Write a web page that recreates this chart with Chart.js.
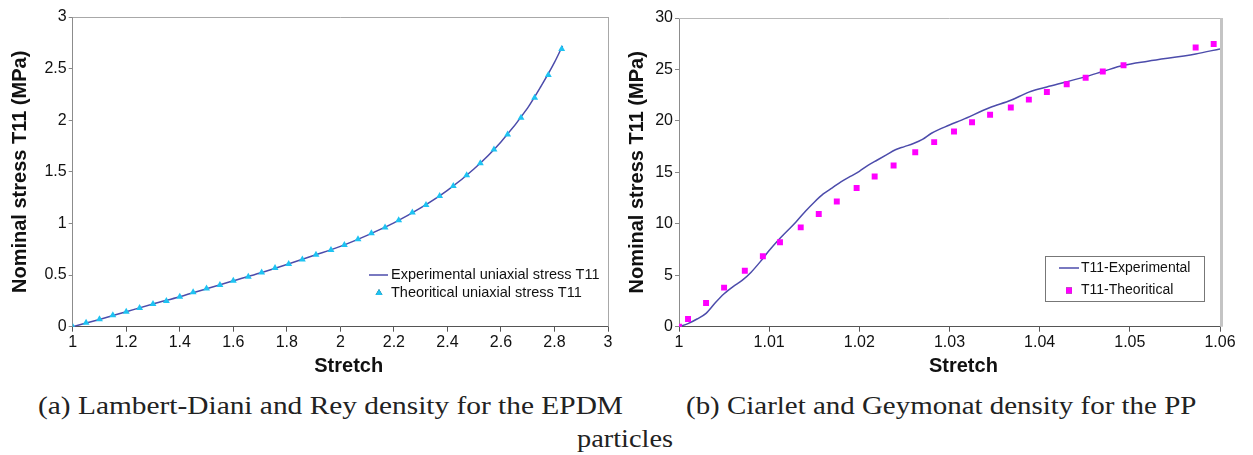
<!DOCTYPE html>
<html>
<head>
<meta charset="utf-8">
<script src="https://cdn.jsdelivr.net/npm/chart.js@4.4.1/dist/chart.umd.min.js"></script>
<style>
  html, body { margin: 0; padding: 0; background: #fff; }
  body { width: 1253px; height: 455px; position: relative; overflow: hidden; }
  canvas { position: absolute; top: 0; }
  #cA { left: 0; }
  #cB { left: 616px; }
  .cap { position: absolute; font-family: "Liberation Serif", serif; font-size: 26px; color: #222;
         white-space: nowrap; transform-origin: 0 0; }
</style>
</head>
<body>
<canvas id="cA" width="616" height="390"></canvas>
<canvas id="cB" width="637" height="390"></canvas>
<div class="cap" id="capA" style="left:38px; top:391px; transform:scaleX(1.13);">(a) Lambert-Diani and Rey density for the EPDM</div>
<div class="cap" id="capA2" style="left:577px; top:424px; transform:scaleX(1.09);">particles</div>
<div class="cap" id="capB" style="left:686px; top:391px; transform:scaleX(1.113);">(b) Ciarlet and Geymonat density for the PP</div>
<script>
// (a) EPDM, Lambert-Diani and Rey
const expA_x = [1, 1.1, 1.2, 1.3, 1.4, 1.5, 1.6, 1.7, 1.8, 1.9, 2.0, 2.1, 2.2, 2.3, 2.4, 2.5, 2.6, 2.7, 2.75, 2.8, 2.83];
const expA_y = [0, 0.07, 0.145, 0.22, 0.29, 0.367, 0.445, 0.52, 0.603, 0.69, 0.778, 0.885, 1.005, 1.15, 1.32, 1.53, 1.79, 2.12, 2.33, 2.56, 2.72];
const theoA_x = [1, 1.05, 1.10, 1.15, 1.20, 1.25, 1.30, 1.35, 1.40, 1.45, 1.50, 1.55, 1.60, 1.656, 1.706, 1.756, 1.807, 1.858, 1.909,
  1.965, 2.015, 2.066, 2.116, 2.167, 2.218, 2.269, 2.320, 2.371, 2.422, 2.472, 2.523, 2.574, 2.625, 2.675, 2.726, 2.777, 2.827];
const theoA_y = [0, 0.039, 0.071, 0.11, 0.145, 0.18, 0.22, 0.25, 0.29, 0.333, 0.369, 0.404, 0.446, 0.485, 0.524, 0.569, 0.608, 0.65, 0.697,
  0.744, 0.792, 0.847, 0.905, 0.96, 1.031, 1.106, 1.18, 1.267, 1.364, 1.468, 1.584, 1.717, 1.862, 2.024, 2.218, 2.438, 2.69];
const ticksA_x = [1, 1.2, 1.4, 1.6, 1.8, 2, 2.2, 2.4, 2.6, 2.8, 3];
const ticksA_y = [0, 0.5, 1, 1.5, 2, 2.5, 3];

// (b) PP, Ciarlet and Geymonat
const expB_x = [1, 1.001, 1.002, 1.003, 1.004, 1.005, 1.006, 1.007, 1.008, 1.009, 1.010, 1.011, 1.012, 1.013, 1.014, 1.015, 1.016, 1.017,
  1.018, 1.019, 1.020, 1.021, 1.022, 1.023, 1.024, 1.025, 1.026, 1.027, 1.028, 1.030, 1.0314, 1.0345, 1.0368, 1.0388, 1.0408, 1.043,
  1.0451, 1.047, 1.0493, 1.052, 1.0573, 1.060];
const expB_y = [0, 0.3, 0.75, 1.3, 2.3, 3.2, 3.9, 4.5, 5.3, 6.3, 7.4, 8.4, 9.3, 10.2, 11.2, 12.1, 12.9, 13.5,
  14.1, 14.6, 15.1, 15.7, 16.2, 16.7, 17.2, 17.5, 17.8, 18.2, 18.8, 19.6, 20.1, 21.3, 22.0, 22.8, 23.3, 23.8,
  24.3, 24.8, 25.4, 25.8, 26.5, 27.0];
const theoB_x = [1, 1.001, 1.003, 1.005, 1.0073, 1.0093, 1.0112, 1.0135, 1.0155, 1.0175, 1.0197, 1.0217, 1.0238, 1.0262, 1.0283,
  1.0305, 1.0325, 1.0345, 1.0368, 1.0388, 1.0408, 1.043, 1.0451, 1.047, 1.0493, 1.0573, 1.0593];
const theoB_y = [0, 0.75, 2.3, 3.8, 5.43, 6.84, 8.2, 9.65, 10.95, 12.17, 13.47, 14.6, 15.67, 16.96, 17.94,
  18.97, 19.87, 20.6, 21.3, 22.07, 22.8, 23.57, 24.2, 24.8, 25.4, 27.13, 27.47];
const ticksB_x = [1, 1.01, 1.02, 1.03, 1.04, 1.05, 1.06];
const ticksB_y = [0, 5, 10, 15, 20, 25, 30];

const LINE_COL = '#4c4cab';
const TRI_COL = '#1ec3f2';
const SQ_COL = '#ff00ff';
const FONT = '"Liberation Sans", Arial, sans-serif';

function pts(xs, ys) { return xs.map((x, i) => ({ x: x, y: ys[i] })); }

// top + right frame lines of the plot area
function framePlugin(topCol, rightCol, rightW) {
  return {
    id: 'frame',
    afterDraw(chart) {
      const { ctx, chartArea: a } = chart;
      ctx.save();
      ctx.strokeStyle = topCol; ctx.lineWidth = 1;
      ctx.beginPath(); ctx.moveTo(a.left, a.top + 0.5); ctx.lineTo(a.right, a.top + 0.5); ctx.stroke();
      ctx.strokeStyle = rightCol; ctx.lineWidth = rightW;
      ctx.beginPath(); ctx.moveTo(a.right + rightW / 2, a.top); ctx.lineTo(a.right + rightW / 2, a.bottom); ctx.stroke();
      ctx.restore();
    }
  };
}

// legend drawn inside the plot, styles taken from the datasets
function legendPlugin(cfg) {
  return {
    id: 'refLegend',
    afterDraw(chart) {
      const ctx = chart.ctx;
      const ds = chart.data.datasets;
      ctx.save();
      if (cfg.box) {
        ctx.strokeStyle = '#777'; ctx.lineWidth = 1;
        ctx.strokeRect(cfg.box[0] + 0.5, cfg.box[1] + 0.5, cfg.box[2], cfg.box[3]);
      }
      ctx.font = cfg.size + 'px ' + FONT;
      ctx.fillStyle = '#111';
      ctx.textBaseline = 'middle';
      // row 1: line
      ctx.strokeStyle = ds[0].borderColor; ctx.lineWidth = ds[0].borderWidth;
      ctx.beginPath(); ctx.moveTo(cfg.lineX0, cfg.y1); ctx.lineTo(cfg.lineX1, cfg.y1); ctx.stroke();
      ctx.fillText(ds[0].label, cfg.textX, cfg.y1);
      // row 2: marker
      Chart.helpers.drawPoint(ctx, {
        pointStyle: ds[1].pointStyle, radius: ds[1].pointRadius, rotation: 0, borderWidth: 0
      }, cfg.markX, cfg.y2);
      ctx.fillStyle = ds[1].pointBackgroundColor;
      ctx.fill();
      ctx.fillStyle = '#111';
      ctx.fillText(ds[1].label, cfg.textX, cfg.y2);
      ctx.restore();
    }
  };
}

function axes(tx, ty, yWidth, xHeight, titlePadY, xTitle) {
  return {
    x: {
      type: 'linear', min: tx[0], max: tx[tx.length - 1],
      afterBuildTicks: s => { s.ticks = tx.map(v => ({ value: v })); },
      afterFit: s => { s.height = xHeight; },
      ticks: { color: '#111', font: { family: FONT, size: 16 }, padding: 1, maxRotation: 0, autoSkip: false,
               callback: v => String(v) },
      grid: { drawOnChartArea: false, drawTicks: true, tickLength: 5, color: '#555' },
      border: { color: '#555', width: 1 },
      title: { display: true, text: xTitle, color: '#111', font: { family: FONT, size: 20, weight: 'bold' },
               padding: { top: 0, bottom: 12 } }
    },
    y: {
      type: 'linear', min: ty[0], max: ty[ty.length - 1],
      afterBuildTicks: s => { s.ticks = ty.map(v => ({ value: v })); },
      afterFit: s => { s.width = yWidth; },
      ticks: { color: '#111', font: { family: FONT, size: 16 }, padding: 2, autoSkip: false,
               callback: v => String(v) },
      grid: { drawOnChartArea: false, drawTicks: true, tickLength: 4, color: '#888' },
      border: { color: '#8c8c8c', width: 1 },
      title: { display: true, text: 'Nominal stress T11 (MPa)', color: '#111',
               font: { family: FONT, size: 20, weight: 'bold' }, padding: { top: titlePadY, bottom: 0 } }
    }
  };
}

new Chart(document.getElementById('cA'), {
  type: 'scatter',
  data: {
    datasets: [
      { label: 'Experimental uniaxial stress T11', data: pts(expA_x, expA_y), showLine: true,
        borderColor: LINE_COL, borderWidth: 1.5, pointRadius: 0, cubicInterpolationMode: 'monotone', order: 2 },
      { label: 'Theoritical uniaxial stress T11', data: pts(theoA_x, theoA_y), showLine: false,
        pointStyle: 'triangle', pointRadius: 4, pointBackgroundColor: TRI_COL, pointBorderColor: TRI_COL,
        pointBorderWidth: 0, order: 1 }
    ]
  },
  options: {
    responsive: false, animation: false, devicePixelRatio: 1,
    layout: { padding: { left: 0, top: 17, right: 8, bottom: 0 } },
    plugins: { legend: { display: false }, tooltip: { enabled: false } },
    scales: axes(ticksA_x, ticksA_y, 72.7, 63.3, 8, '   Stretch')
  },
  plugins: [framePlugin('#a8a8a8', '#a8a8a8', 1),
    legendPlugin({ size: 14.5, lineX0: 369, lineX1: 388, textX: 391, markX: 379, y1: 275, y2: 293 })]
});

new Chart(document.getElementById('cB'), {
  type: 'scatter',
  data: {
    datasets: [
      { label: 'T11-Experimental', data: pts(expB_x, expB_y), showLine: true,
        borderColor: LINE_COL, borderWidth: 1.5, pointRadius: 0, cubicInterpolationMode: 'monotone', order: 2 },
      { label: 'T11-Theoritical', data: pts(theoB_x, theoB_y), showLine: false,
        pointStyle: 'rect', pointRadius: 4.2, pointBackgroundColor: SQ_COL, pointBorderColor: SQ_COL,
        pointBorderWidth: 0, order: 1 }
    ]
  },
  options: {
    responsive: false, animation: false, devicePixelRatio: 1,
    layout: { padding: { left: 0, top: 18, right: 33, bottom: 0 } },
    plugins: { legend: { display: false }, tooltip: { enabled: false } },
    scales: axes(ticksB_x, ticksB_y, 63, 63.3, 9, '     Stretch')
  },
  plugins: [framePlugin('#b8b8b8', '#c4c4c4', 3),
    legendPlugin({ size: 14, box: [429, 256, 159, 45], lineX0: 443, lineX1: 463, textX: 465, markX: 453, y1: 268, y2: 290.5 })]
});
</script>
</body>
</html>
